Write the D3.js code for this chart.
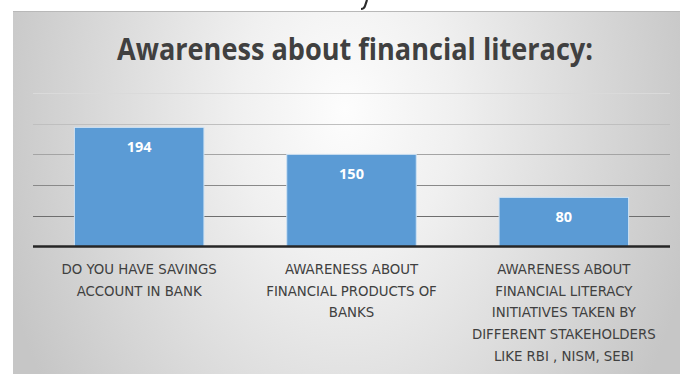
<!DOCTYPE html>
<html>
<head>
<meta charset="utf-8">
<script src="https://cdn.jsdelivr.net/npm/d3@7"></script>
<style>
  body { margin: 0; background: #fff; }
  #chart { width: 680px; height: 374px; overflow: hidden; }
</style>
</head>
<body>
<div id="chart"></div>
<script>
var categories = [
    ["DO YOU HAVE SAVINGS", "ACCOUNT IN BANK"],
    ["AWARENESS ABOUT", "FINANCIAL PRODUCTS OF", "BANKS"],
    ["AWARENESS ABOUT", "FINANCIAL LITERACY", "INITIATIVES TAKEN BY", "DIFFERENT STAKEHOLDERS", "LIKE RBI , NISM, SEBI"]
];
var values = [194, 150, 80];
var gridTicks = [50, 100, 150, 200, 250];
var title = "Awareness about financial literacy:";

(function() {
    var width = 680,
        height = 374;

    var svg = d3.select("#chart")
        .append("svg")
        .attr("width", width)
        .attr("height", height)

    var defs = svg.append("defs")
    var grad = defs.append("radialGradient")
        .attr("id", "bg")
        .attr("gradientUnits", "userSpaceOnUse")
        .attr("cx", 0).attr("cy", 0).attr("r", 1)
        .attr("gradientTransform", "translate(345,110) scale(360,500)")
    grad.append("stop").attr("offset", 0).attr("stop-color", "#fdfdfd")
    grad.append("stop").attr("offset", 0.3).attr("stop-color", "#f0f0f0")
    grad.append("stop").attr("offset", 1).attr("stop-color", "#c6c6c6")

    // panel
    svg.append("rect")
        .attr("x", 13).attr("y", 11)
        .attr("width", width - 13).attr("height", height - 11)
        .attr("fill", "url(#bg)")
    svg.append("line")
        .attr("x1", 13).attr("x2", width)
        .attr("y1", 11.5).attr("y2", 11.5)
        .attr("stroke", "#b8b8b8")

    // tail of a letter cut off above the panel
    svg.append("path")
        .attr("d", "M367,0 L365,6 Q364,9 361,9")
        .attr("fill", "none")
        .attr("stroke", "#2a2a2a")
        .attr("stroke-width", 2.2)

    svg.append("text")
        .attr("x", 355).attr("y", 60)
        .attr("text-anchor", "middle")
        .attr("font-family", "Open Sans, sans-serif")
        .attr("font-weight", "bold")
        .attr("font-size", 31)
        .attr("textLength", 476)
        .attr("lengthAdjust", "spacingAndGlyphs")
        .attr("fill", "#404040")
        .text(title)

    var x = d3.scaleBand()
        .domain(d3.range(values.length))
        .range([33, 670])
        .paddingInner(0.39)
        .paddingOuter(0.195)

    var y = d3.scaleLinear()
        .domain([0, 250])
        .range([246.5, 93])

    var gridColor = d3.scaleLinear()
        .domain([50, 250])
        .range(["#6e6e6e", "#dadada"])

    svg.selectAll(".grid")
        .data(gridTicks)
        .enter().append("line")
        .attr("class", "grid")
        .attr("x1", 33).attr("x2", 670)
        .attr("y1", function(d) { return Math.round(y(d)) + 0.5 })
        .attr("y2", function(d) { return Math.round(y(d)) + 0.5 })
        .attr("stroke", function(d) { return gridColor(d) })
        .attr("stroke-width", 1.2)

    svg.selectAll(".bar")
        .data(values)
        .enter().append("rect")
        .attr("class", "bar")
        .attr("x", function(d, i) { return x(i) })
        .attr("y", function(d) { return y(d) })
        .attr("width", x.bandwidth())
        .attr("height", function(d) { return y(0) - y(d) })
        .attr("fill", "#5b9bd5")
        .attr("stroke", "#cfe2f3")
        .attr("stroke-width", 1)

    svg.selectAll(".val")
        .data(values)
        .enter().append("text")
        .attr("class", "val")
        .attr("x", function(d, i) { return x(i) + x.bandwidth() / 2 })
        .attr("y", function(d) { return y(d) + 25 })
        .attr("text-anchor", "middle")
        .attr("font-family", "Open Sans, sans-serif")
        .attr("font-weight", "bold")
        .attr("font-size", 14.5)
        .attr("fill", "#fff")
        .text(function(d) { return d })

    // axis baseline
    svg.append("line")
        .attr("x1", 33).attr("x2", 670)
        .attr("y1", y(0)).attr("y2", y(0))
        .attr("stroke", "#262626")
        .attr("stroke-width", 2.5)

    var labels = svg.selectAll(".cat")
        .data(categories)
        .enter().append("text")
        .attr("class", "cat")
        .attr("text-anchor", "middle")
        .attr("font-family", "'Liberation Sans Narrow', 'DejaVu Sans Condensed', sans-serif")
        .attr("font-stretch", "condensed")
        .attr("font-size", 14.8)
        .attr("fill", "#404040")

    labels.selectAll("tspan")
        .data(function(d, i) {
            return d.map(function(t) { return { t: t, i: i } })
        })
        .enter().append("tspan")
        .attr("x", function(d) { return x(d.i) + x.bandwidth() / 2 })
        .attr("y", function(d, j) { return 274 + j * 21.7 })
        .text(function(d) { return d.t })
})();
</script>
</body>
</html>
